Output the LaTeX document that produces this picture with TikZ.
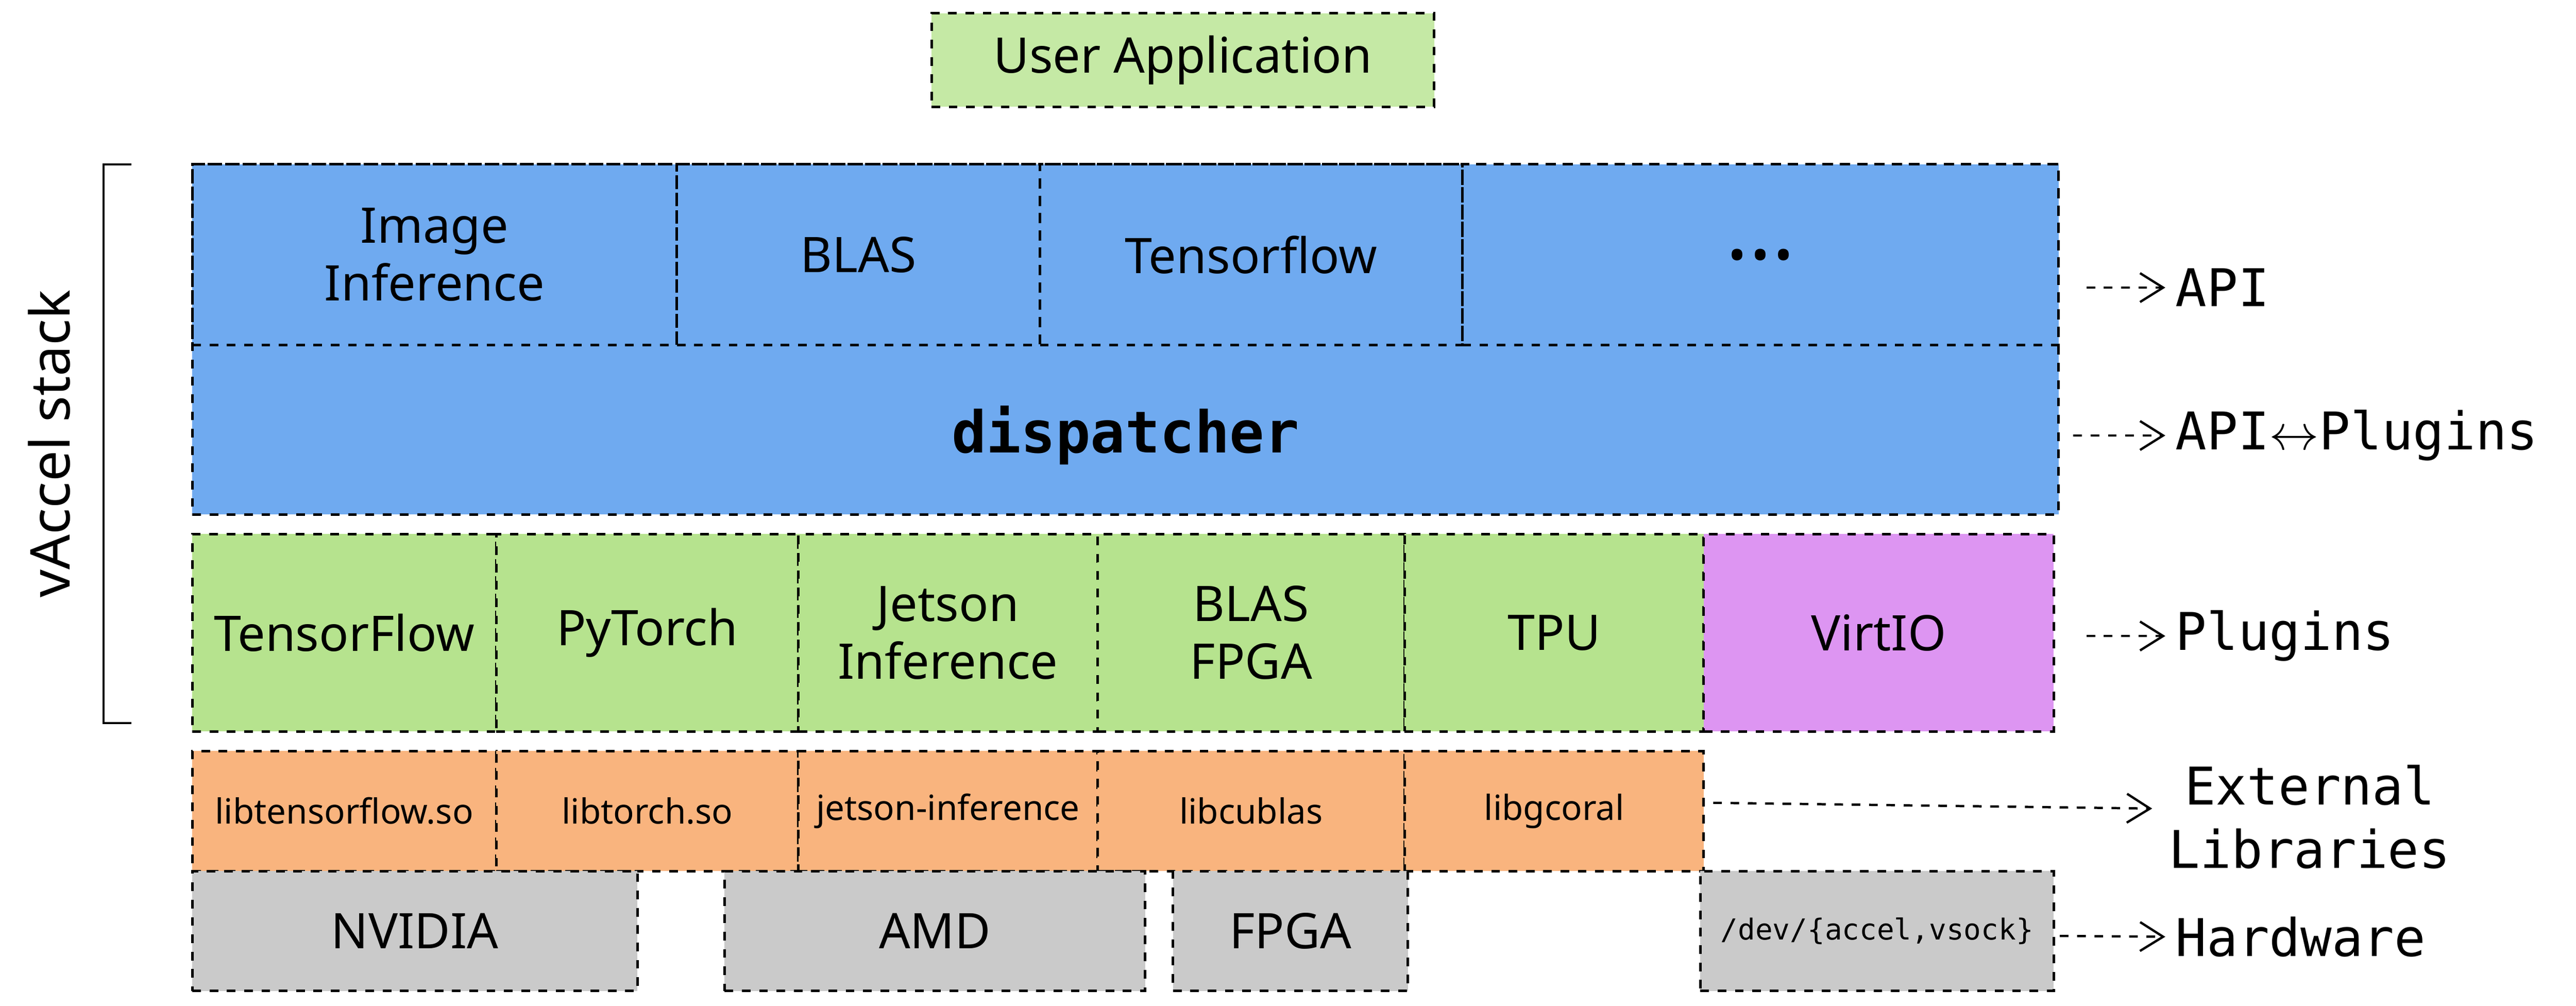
\documentclass[tikz,border=0pt]{standalone}
\usepackage{fontspec}
\setmainfont{Noto Sans}
\newfontfamily\monof{DejaVu Sans Mono}
\usetikzlibrary{arrows.meta,patterns}
\definecolor{cblue}{HTML}{6FAAF0}
\definecolor{cgreen}{HTML}{B6E38E}
\definecolor{corange}{HTML}{F9B47E}
\definecolor{cgray}{HTML}{CACACA}
\definecolor{cpurple}{HTML}{DD95F2}
\tikzset{
 bx/.style={draw=black,dashed,line width=0.9pt,inner sep=1pt,align=center,font=\fontsize{17}{20}\selectfont},
 lib/.style={bx,font=\fontsize{12}{14}\selectfont},
 rl/.style={anchor=west,font=\monof\fontsize{18}{22}\selectfont,align=center},
 ar/.style={dashed,line width=0.8pt,-{Straight Barb[length=8pt,width=10pt]}},
}
\newcommand{\blk}[7]{\node[#6,minimum width={(#4-#2)*0.02cm},minimum height={(#5-#3)*0.02cm}] (#1) at ({(#2+#4)/2},{(#3+#5)/2}) {#7};}
\begin{document}
\begin{tikzpicture}[x=0.02cm,y=-0.02cm]
\useasboundingbox (0,0) rectangle (1568,612);
\blk{user}{567}{8}{873}{65}{bx,fill=cgreen!80}{User Application}
\blk{stack}{117}{100}{1253}{313}{bx,fill=cblue}{}
\blk{img}{117}{100}{412}{210}{bx}{Image\\Inference}
\blk{blas}{412}{100}{633}{210}{bx}{BLAS}
\blk{tf}{633}{100}{890}{210}{bx}{Tensorflow}
\blk{dots}{890}{100}{1253}{210}{bx,font=\fontsize{30}{30}\selectfont\bfseries}{...}
\node[font=\monof\bfseries\fontsize{20}{24}\selectfont] (disp) at (685,265) {dispatcher};
\blk{ptf}{117}{325}{302}{445}{bx,fill=cgreen}{TensorFlow}
\blk{ppt}{302}{325}{486}{445}{bx,fill=cgreen}{PyTorch}
\blk{pje}{486}{325}{668}{445}{bx,fill=cgreen}{Jetson\\Inference}
\blk{pbf}{668}{325}{855}{445}{bx,fill=cgreen}{BLAS\\FPGA}
\blk{ptpu}{855}{325}{1037}{445}{bx,fill=cgreen}{TPU}
\blk{pvirt}{1037}{325}{1250}{445}{bx,fill=cpurple}{VirtIO}
\blk{l1}{117}{457}{302}{530}{lib,fill=corange}{libtensorflow.so}
\blk{l2}{302}{457}{486}{530}{lib,fill=corange}{libtorch.so}
\blk{l3}{486}{457}{668}{530}{lib,fill=corange}{jetson-inference}
\blk{l4}{668}{457}{855}{530}{lib,fill=corange}{libcublas}
\blk{l5}{855}{457}{1037}{530}{lib,fill=corange}{libgcoral}
\blk{h1}{117}{530}{388}{603}{bx,fill=cgray}{NVIDIA}
\blk{h2}{441}{530}{697}{603}{bx,fill=cgray}{AMD}
\blk{h3}{714}{530}{857}{603}{bx,fill=cgray}{FPGA}
\blk{h4}{1035}{530}{1250}{603}{lib,fill=cgray,font=\monof\fontsize{10}{12}\selectfont}{/dev/\{accel,vsock\}}
\draw[line width=0.8pt] (80,100) -- (63,100) -- (63,440) -- (80,440);
\node[rotate=90,font=\fontsize{19}{22}\selectfont] (vs) at (30,270) {vAccel stack};
\node[rl] (api) at (1318,175) {API};
\node[rl] (ap) at (1318,265) {API$\leftrightarrow$Plugins};
\node[rl] (plg) at (1318,387) {Plugins};
\node[rl] (ext) at (1314,497) {External\\Libraries};
\node[rl] (hw) at (1318,570) {Hardware};
\coordinate (a1) at (1270,175);
\coordinate (a2) at (1262,265);
\coordinate (a3) at (1270,387);
\draw[ar] (a1) -- (api);
\draw[ar] (a2) -- (ap);
\draw[ar] (a3) -- (plg);
\draw[ar] (l5.east) ++(5,-5) -- (1310,492);
\draw[ar] (h4.east) ++(3,3) -- (hw.west);
\end{tikzpicture}
\end{document}
